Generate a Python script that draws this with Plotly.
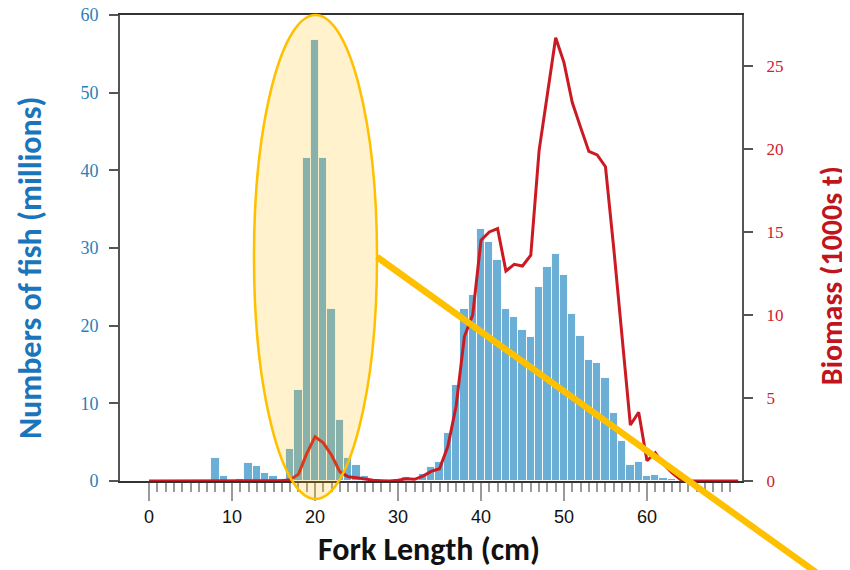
import plotly.graph_objects as go

# Fork length classes (cm)
lengths = list(range(0, 72))

# Numbers of fish (millions) per 1-cm class
numbers = [0, 0, 0, 0, 0, 0, 0, 0, 2.9, 0.68,
           0, 0.25, 2.27, 1.9, 0.97, 0.6, 0.2, 4.1, 11.7, 41.6,
           56.8, 41.6, 22.2, 7.8, 2.9, 2.06, 0.6, 0, 0, 0,
           0, 0.58, 0, 0.9, 1.82, 2.4, 6.2, 12.4, 22.1, 23.9,
           32.4, 30.8, 28.5, 22.2, 21.1, 19.5, 18.5, 25.0, 27.6, 29.2,
           26.5, 21.5, 18.7, 15.6, 15.2, 13.2, 8.8, 5.15, 2.0, 2.45,
           0.64, 0.8, 0.45, 0.26, 0, 0, 0, 0, 0, 0,
           0, 0]

# Biomass (1000s t) per 1-cm class
biomass = [0, 0, 0, 0, 0, 0, 0, 0, 0, 0,
           0, 0, 0, 0, 0, 0, 0.02, 0.08, 0.4, 1.65,
           2.67, 2.3, 1.55, 0.55, 0.25, 0.2, 0.12, 0.05, 0.02, 0.0,
           0.05, 0.14, 0.1, 0.3, 0.58, 0.74, 2.07, 4.5, 8.7, 10.0,
           14.5, 15.0, 15.2, 12.65, 13.05, 12.95, 13.6, 19.9, 23.3, 26.7,
           25.2, 22.8, 21.3, 19.85, 19.64, 18.93, 14.0, 8.8, 3.37, 4.14,
           1.22, 1.7, 1.0, 0.5, 0.1, 0, 0, 0, 0, 0,
           0, 0]

x_major = list(range(0, 71, 5))
x_major_text = [str(v) if v % 10 == 0 and v <= 60 else "" for v in x_major]
x_minor = list(range(0, 71))
y_left_ticks = list(range(0, 61, 10))
y_right_ticks = list(range(0, 26, 5))

BLUE_BAR = "#6BAED6"
RED = "#CC1A22"
GOLD = "#FFC000"

fig = go.Figure()
fig.add_trace(go.Bar(x=lengths, y=numbers, marker=dict(color=BLUE_BAR, line=dict(color="rgba(255,255,255,0.9)", width=1)),
                     width=1.0, yaxis="y", showlegend=False))
fig.add_trace(go.Scatter(x=lengths, y=biomass, mode="lines", line=dict(color=RED, width=3),
                         yaxis="y2", showlegend=False, cliponaxis=False))

fig.update_layout(
    width=850, height=570,
    margin=dict(l=112, r=116, t=7, b=97, autoexpand=False),
    paper_bgcolor="white", plot_bgcolor="white",
    bargap=0,
    xaxis=dict(range=[-3.5, 71.45], tickmode="array", tickvals=x_major, ticktext=x_major_text,
               ticks="outside", ticklen=18, tickwidth=2, tickcolor="#9a9a9a",
               minor=dict(tickvals=x_minor, ticks="outside", ticklen=9, tickwidth=1.5, tickcolor="#9a9a9a"),
               showline=True, linecolor="#333333", linewidth=2, mirror=True,
               showgrid=False, zeroline=False, automargin=False,
               tickfont=dict(family="Liberation Sans Narrow, Liberation Sans, Arial", size=18, color="#111111")),
    yaxis=dict(range=[0, 60], tickmode="array", tickvals=y_left_ticks,
               ticks="outside", ticklen=9, tickwidth=2, tickcolor="#555555",
               showline=True, linecolor="#555555", linewidth=2,
               showgrid=False, zeroline=False, ticklabelstandoff=7, automargin=False,
               ticklabeloverflow="allow",
               tickfont=dict(family="Liberation Serif", size=18, color="#2A80B9")),
    yaxis2=dict(range=[0, 28.07], overlaying="y", side="right", tickmode="array", tickvals=y_right_ticks,
                ticks="outside", ticklen=9, tickwidth=2, tickcolor="#555555",
                showline=True, linecolor="#555555", linewidth=2,
                showgrid=False, zeroline=False, ticklabelstandoff=10, automargin=False,
                ticklabeloverflow="allow",
                tickfont=dict(family="Liberation Serif", size=17, color="#D0202A")),
    shapes=[
        dict(type="circle", xref="paper", yref="paper", x0=0.2154, x1=0.4132, y0=-0.0386, y1=1.0,
             fillcolor="rgba(255,192,0,0.2)", line=dict(color=GOLD, width=2.5), layer="above"),
        dict(type="line", xref="paper", yref="paper", x0=0.4132, y0=0.4807, x1=1.181, y1=-0.2554,
             line=dict(color=GOLD, width=6.5), layer="above"),
    ],
    annotations=[
        dict(text="<b>Numbers of fish (millions)</b>", xref="paper", yref="paper", x=-0.1447, y=0.459,
             textangle=-90, showarrow=False, xanchor="center", yanchor="middle",
             font=dict(family="Carlito, Lato, Open Sans", size=32, color="#1B75BB")),
        dict(text="<b>Biomass (1000s t)</b>", xref="paper", yref="paper", x=1.145, y=0.44,
             textangle=-90, showarrow=False, xanchor="center", yanchor="middle",
             font=dict(family="Carlito, Lato, Open Sans", size=30, color="#C0141E")),
        dict(text="<b>Fork Length (cm)</b>", xref="paper", yref="paper", x=0.4968, y=-0.148,
             showarrow=False, xanchor="center", yanchor="middle",
             font=dict(family="Carlito, Lato, Open Sans", size=32, color="#111111")),
    ],
)

fig.write_html("out.html")
